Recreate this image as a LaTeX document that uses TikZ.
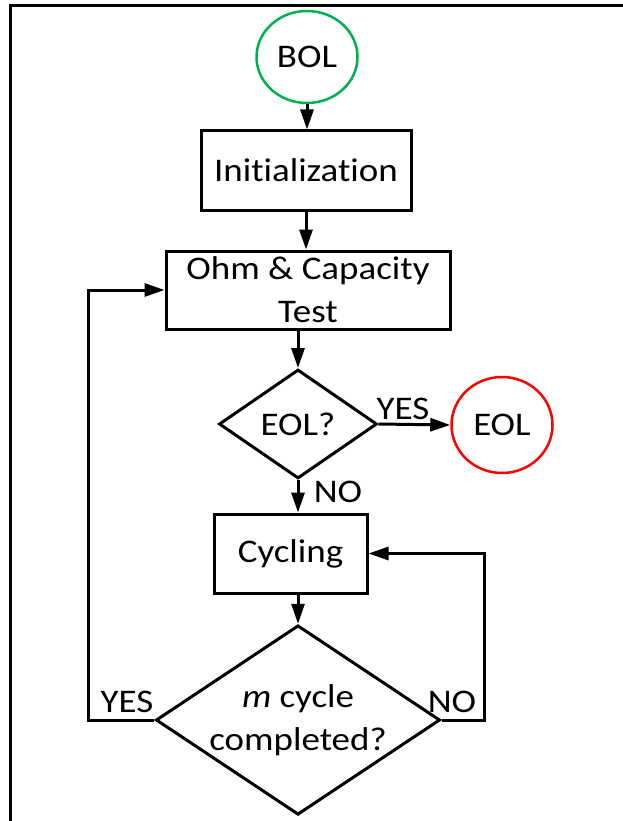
\documentclass[tikz,border=0pt]{standalone}
\usepackage{fontspec}
\setmainfont{Carlito}[FakeStretch=1.12, RawFeature={-liga;-clig;-calt;-dlig}]
\usetikzlibrary{shapes.geometric,arrows.meta}
\definecolor{bolgreen}{HTML}{00B050}
\definecolor{eolred}{HTML}{FF0000}
\begin{document}
\begin{tikzpicture}[x=1pt,y=-1pt,
  every node/.style={font=\fontsize{33}{43}\selectfont},
  box/.style={draw, rectangle, line width=3pt, inner sep=0pt, align=center},
  dia/.style={draw, diamond, line width=3pt, inner sep=0pt, align=center},
  term/.style={draw, ellipse, line width=2.5pt, inner sep=0pt},
  arr/.style={line width=3pt, -{Triangle[length=20pt,width=13pt]}},
  lab/.style={inner sep=0pt}
]
\useasboundingbox (0,0) rectangle (623,821);
\fill[white] (0,0) rectangle (623,821);
% frame
\draw[line width=3pt] (10.5,821) -- (10.5,5.5) -- (623,5.5);

\node[term, draw=bolgreen, minimum width=101pt, minimum height=92pt] (bol) at (307,57) {BOL};
\node[box, minimum width=210pt, minimum height=79pt] (init) at (306,170.5) {Init\kern0pt ializat\kern0pt ion};
\node[box, minimum width=284pt, minimum height=78pt] (ohm) at (308,290) {Ohm \& Capacity\\Test};
\node[dia, minimum width=158pt, minimum height=109pt] (eolq) at (298,424) {EOL?};
\node[term, draw=eolred, minimum width=101pt, minimum height=96pt] (eol) at (502,425) {EOL};
\node[box, minimum width=153pt, minimum height=79pt] (cyc) at (290.5,553.5) {Cycling};
\node[dia, minimum width=281pt, minimum height=186pt, aspect=1.5] (mq) at (298,720) {\textit{m} cycle\\completed?};

\coordinate (yl) at (88,720);
\coordinate (nr) at (484,720);

\draw[arr] (bol.south) -- (bol.south |- init.north);
\draw[arr] (init.south) -- (init.south |- ohm.north);
\draw[arr] (ohm.south -| eolq.north) -- (eolq.north);
\draw[arr] (eolq.east) -- (eol.west);
\draw[arr] (eolq.south) -- (eolq.south |- cyc.north);
\draw[arr] (cyc.south -| mq.north) -- (mq.north);
\draw[arr] (mq.west) -- (yl) |- (ohm.west);
\draw[arr] (mq.east) -- (nr) |- (cyc.east);

\node[lab] (lyes1) at (403,409) {YES};
\node[lab] (lno1) at (338,492) {NO};
\node[lab] (lyes2) at (127,702) {YES};
\node[lab] (lno2) at (452,702) {NO};
\end{tikzpicture}
\end{document}
